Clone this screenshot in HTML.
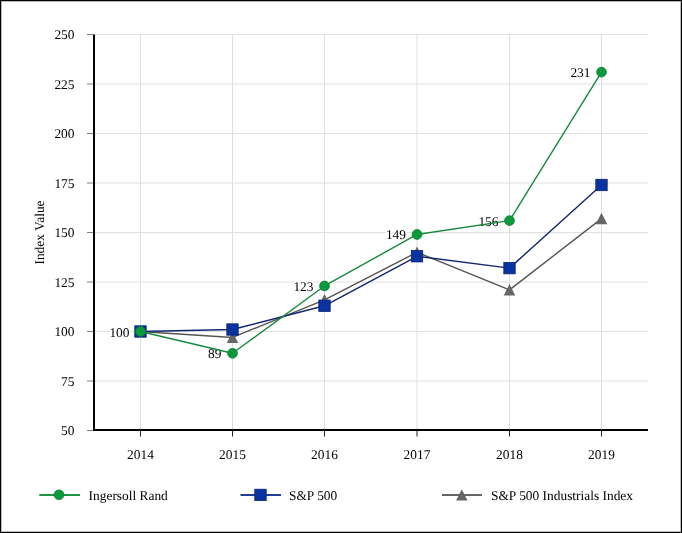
<!DOCTYPE html>
<html><head><meta charset="utf-8"><style>
html,body{margin:0;padding:0;background:#fff;}
svg{display:block;will-change:transform;text-rendering:geometricPrecision;}
text{font-family:"Liberation Serif",serif;font-size:13.4px;fill:#000;}
</style></head><body>
<svg width="682" height="533" viewBox="0 0 682 533">
<rect x="0.5" y="0.5" width="681" height="532" fill="#fff" stroke="#000" stroke-width="1"/>
<rect x="1.5" y="1.5" width="679" height="530" fill="none" stroke="#bcbcbc" stroke-width="1"/>
<line x1="95" y1="381.0" x2="648" y2="381.0" stroke="#dfdfdf" stroke-width="1"/>
<line x1="95" y1="331.5" x2="648" y2="331.5" stroke="#dfdfdf" stroke-width="1"/>
<line x1="95" y1="282.0" x2="648" y2="282.0" stroke="#dfdfdf" stroke-width="1"/>
<line x1="95" y1="232.5" x2="648" y2="232.5" stroke="#dfdfdf" stroke-width="1"/>
<line x1="95" y1="183.0" x2="648" y2="183.0" stroke="#dfdfdf" stroke-width="1"/>
<line x1="95" y1="133.5" x2="648" y2="133.5" stroke="#dfdfdf" stroke-width="1"/>
<line x1="95" y1="84.0" x2="648" y2="84.0" stroke="#dfdfdf" stroke-width="1"/>
<line x1="95" y1="34.5" x2="648" y2="34.5" stroke="#dfdfdf" stroke-width="1"/>
<line x1="140.5" y1="34" x2="140.5" y2="429" stroke="#dfdfdf" stroke-width="1"/>
<line x1="232.5" y1="34" x2="232.5" y2="429" stroke="#dfdfdf" stroke-width="1"/>
<line x1="324.5" y1="34" x2="324.5" y2="429" stroke="#dfdfdf" stroke-width="1"/>
<line x1="417.0" y1="34" x2="417.0" y2="429" stroke="#dfdfdf" stroke-width="1"/>
<line x1="509.5" y1="34" x2="509.5" y2="429" stroke="#dfdfdf" stroke-width="1"/>
<line x1="601.5" y1="34" x2="601.5" y2="429" stroke="#dfdfdf" stroke-width="1"/>
<line x1="87" y1="430.5" x2="93" y2="430.5" stroke="#808080" stroke-width="1"/>
<line x1="87" y1="381.0" x2="93" y2="381.0" stroke="#808080" stroke-width="1"/>
<line x1="87" y1="331.5" x2="93" y2="331.5" stroke="#808080" stroke-width="1"/>
<line x1="87" y1="282.0" x2="93" y2="282.0" stroke="#808080" stroke-width="1"/>
<line x1="87" y1="232.5" x2="93" y2="232.5" stroke="#808080" stroke-width="1"/>
<line x1="87" y1="183.0" x2="93" y2="183.0" stroke="#808080" stroke-width="1"/>
<line x1="87" y1="133.5" x2="93" y2="133.5" stroke="#808080" stroke-width="1"/>
<line x1="87" y1="84.0" x2="93" y2="84.0" stroke="#808080" stroke-width="1"/>
<line x1="87" y1="34.5" x2="93" y2="34.5" stroke="#808080" stroke-width="1"/>
<line x1="140.5" y1="431" x2="140.5" y2="436.5" stroke="#222" stroke-width="1"/>
<line x1="232.5" y1="431" x2="232.5" y2="436.5" stroke="#222" stroke-width="1"/>
<line x1="324.5" y1="431" x2="324.5" y2="436.5" stroke="#222" stroke-width="1"/>
<line x1="417.0" y1="431" x2="417.0" y2="436.5" stroke="#222" stroke-width="1"/>
<line x1="509.5" y1="431" x2="509.5" y2="436.5" stroke="#222" stroke-width="1"/>
<line x1="601.5" y1="431" x2="601.5" y2="436.5" stroke="#222" stroke-width="1"/>
<line x1="94" y1="34.5" x2="94" y2="431" stroke="#000" stroke-width="2"/>
<line x1="93" y1="430" x2="648" y2="430" stroke="#000" stroke-width="2"/>
<text x="74.5" y="435.0" text-anchor="end">50</text>
<text x="74.5" y="385.5" text-anchor="end">75</text>
<text x="74.5" y="336.0" text-anchor="end">100</text>
<text x="74.5" y="286.5" text-anchor="end">125</text>
<text x="74.5" y="237.0" text-anchor="end">150</text>
<text x="74.5" y="187.5" text-anchor="end">175</text>
<text x="74.5" y="138.0" text-anchor="end">200</text>
<text x="74.5" y="88.5" text-anchor="end">225</text>
<text x="74.5" y="39.0" text-anchor="end">250</text>
<text x="140.5" y="459" text-anchor="middle">2014</text>
<text x="232.5" y="459" text-anchor="middle">2015</text>
<text x="324.5" y="459" text-anchor="middle">2016</text>
<text x="417.0" y="459" text-anchor="middle">2017</text>
<text x="509.5" y="459" text-anchor="middle">2018</text>
<text x="601.5" y="459" text-anchor="middle">2019</text>
<text transform="translate(43.6,232.5) rotate(-90)" text-anchor="middle" font-size="12">Index Value</text>
<text x="129.5" y="336.5" text-anchor="end" stroke="#fff" stroke-width="3" stroke-linejoin="round" paint-order="stroke">100</text>
<text x="221.5" y="358.28" text-anchor="end" stroke="#fff" stroke-width="3" stroke-linejoin="round" paint-order="stroke">89</text>
<text x="313.5" y="290.96000000000004" text-anchor="end" stroke="#fff" stroke-width="3" stroke-linejoin="round" paint-order="stroke">123</text>
<text x="406.0" y="239.48" text-anchor="end" stroke="#fff" stroke-width="3" stroke-linejoin="round" paint-order="stroke">149</text>
<text x="498.5" y="225.62" text-anchor="end" stroke="#fff" stroke-width="3" stroke-linejoin="round" paint-order="stroke">156</text>
<text x="590.5" y="77.12" text-anchor="end" stroke="#fff" stroke-width="3" stroke-linejoin="round" paint-order="stroke">231</text>
<polyline points="140.5,331.50 232.5,337.44 324.5,299.82 417.0,252.30 509.5,289.92 601.5,218.64" fill="none" stroke="#555555" stroke-width="1.4" stroke-linejoin="round"/>
<polygon points="140.5,325.70 146.25,337.10 134.75,337.10" fill="#666666"/>
<polygon points="232.5,331.64 238.25,343.04 226.75,343.04" fill="#666666"/>
<polygon points="324.5,294.02 330.25,305.42 318.75,305.42" fill="#666666"/>
<polygon points="417.0,246.50 422.75,257.90 411.25,257.90" fill="#666666"/>
<polygon points="509.5,284.12 515.25,295.52 503.75,295.52" fill="#666666"/>
<polygon points="601.5,212.84 607.25,224.24 595.75,224.24" fill="#666666"/>
<polyline points="140.5,331.50 232.5,329.52 324.5,305.76 417.0,256.26 509.5,268.14 601.5,184.98" fill="none" stroke="#13276f" stroke-width="1.4" stroke-linejoin="round"/>
<rect x="134.80" y="325.80" width="11.4" height="11.4" fill="#0a33a0" stroke="#0b2477" stroke-width="0.8"/>
<rect x="226.80" y="323.82" width="11.4" height="11.4" fill="#0a33a0" stroke="#0b2477" stroke-width="0.8"/>
<rect x="318.80" y="300.06" width="11.4" height="11.4" fill="#0a33a0" stroke="#0b2477" stroke-width="0.8"/>
<rect x="411.30" y="250.56" width="11.4" height="11.4" fill="#0a33a0" stroke="#0b2477" stroke-width="0.8"/>
<rect x="503.80" y="262.44" width="11.4" height="11.4" fill="#0a33a0" stroke="#0b2477" stroke-width="0.8"/>
<rect x="595.80" y="179.28" width="11.4" height="11.4" fill="#0a33a0" stroke="#0b2477" stroke-width="0.8"/>
<polyline points="140.5,331.50 232.5,353.28 324.5,285.96 417.0,234.48 509.5,220.62 601.5,72.12" fill="none" stroke="#178a3f" stroke-width="1.4" stroke-linejoin="round"/>
<circle cx="140.5" cy="331.50" r="4.9" fill="#0a9a3c" stroke="#0d7f34" stroke-width="0.8"/>
<circle cx="232.5" cy="353.28" r="4.9" fill="#0a9a3c" stroke="#0d7f34" stroke-width="0.8"/>
<circle cx="324.5" cy="285.96" r="4.9" fill="#0a9a3c" stroke="#0d7f34" stroke-width="0.8"/>
<circle cx="417.0" cy="234.48" r="4.9" fill="#0a9a3c" stroke="#0d7f34" stroke-width="0.8"/>
<circle cx="509.5" cy="220.62" r="4.9" fill="#0a9a3c" stroke="#0d7f34" stroke-width="0.8"/>
<circle cx="601.5" cy="72.12" r="4.9" fill="#0a9a3c" stroke="#0d7f34" stroke-width="0.8"/>
<line x1="39.3" y1="495" x2="80" y2="495" stroke="#1c9444" stroke-width="1.9"/>
<circle cx="59.0" cy="494.80" r="4.9" fill="#0a9a3c" stroke="#0d7f34" stroke-width="0.8"/>
<text x="88.6" y="500">Ingersoll Rand</text>
<line x1="240.5" y1="495" x2="281" y2="495" stroke="#1e3f96" stroke-width="1.9"/>
<rect x="254.80" y="489.20" width="11.4" height="11.4" fill="#0a33a0" stroke="#0b2477" stroke-width="0.8"/>
<text x="289" y="500">S&amp;P 500</text>
<line x1="442" y1="495" x2="482" y2="495" stroke="#666666" stroke-width="1.9"/>
<polygon points="461.8,489.20 467.55,500.60 456.05,500.60" fill="#666666"/>
<text x="491" y="500">S&amp;P 500 Industrials Index</text>
</svg>
</body></html>
